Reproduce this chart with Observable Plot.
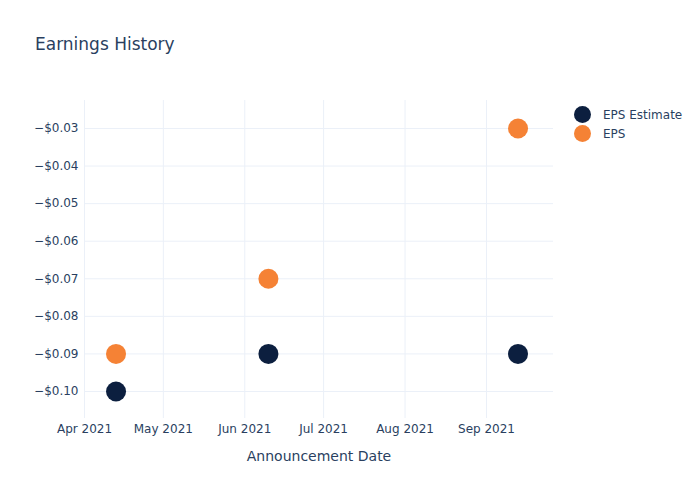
<!DOCTYPE html>
<html>
<head>
<meta charset="utf-8">
<script src="https://cdn.jsdelivr.net/npm/d3@7"></script>
<script src="https://cdn.jsdelivr.net/npm/@observablehq/plot@0.6"></script>
<style>
  html, body { margin: 0; padding: 0; background: #fff; }
  #wrap { position: relative; width: 700px; height: 500px; font-family: "DejaVu Sans", sans-serif; color: #2a3f5f; }
  #title { position: absolute; left: 35px; top: 34px; font-size: 17px; color: #2a3f5f; }
  #legend { position: absolute; left: 574px; top: 105px; font-size: 12px; color: #2a3f5f; }
  .item { display: flex; align-items: center; height: 19px; }
  .sw { width: 17px; height: 17px; border-radius: 50%; margin-right: 12px; }
  svg { position: absolute; left: 0; top: 0; }
</style>
</head>
<body>
<div id="wrap">
  <div id="chart"></div>
  <div id="title">Earnings History</div>
  <div id="legend"></div>
</div>
<script>
const dates = ["2021-04-13", "2021-06-10", "2021-09-13"];
const epsEstimate = [-0.10, -0.09, -0.09];
const eps = [-0.09, -0.07, -0.03];
const seriesNames = ["EPS Estimate", "EPS"];
const seriesColors = ["#0c1f3f", "#f58235"];

const rows = [];
dates.forEach((d, i) => {
  rows.push({date: new Date(d), value: epsEstimate[i], series: seriesNames[0]});
});
dates.forEach((d, i) => {
  rows.push({date: new Date(d), value: eps[i], series: seriesNames[1]});
});

const fmtY = v => (v < 0 ? "\u2212" : "") + "$" + Math.abs(v).toFixed(2);
const yTicks = [-0.10, -0.09, -0.08, -0.07, -0.06, -0.05, -0.04, -0.03];
const grid = "#ebf0f8";

const chart = Plot.plot({
  width: 700,
  height: 500,
  marginTop: 100,
  marginBottom: 82,
  marginLeft: 84,
  marginRight: 147,
  style: {fontFamily: "DejaVu Sans, sans-serif", fontSize: "12px", color: "#2a3f5f", background: "transparent"},
  x: {type: "utc", domain: [new Date("2021-04-01"), new Date("2021-09-26T12:00Z")]},
  y: {domain: [-0.10719, -0.02255]},
  color: {domain: seriesNames, range: seriesColors},
  marks: [
    Plot.gridX({ticks: d3.utcMonth.every(1), stroke: grid, strokeOpacity: 1, strokeWidth: 1}),
    Plot.gridY({ticks: yTicks, stroke: grid, strokeOpacity: 1, strokeWidth: 1}),
    Plot.axisY({ticks: yTicks, tickFormat: fmtY, tickSize: 0, tickPadding: 6, label: null, fill: "#2a3f5f"}),
    Plot.axisX({ticks: d3.utcMonth.every(1), tickFormat: d3.utcFormat("%b %Y"), tickSize: 0, tickPadding: 6, label: null, fill: "#2a3f5f"}),
    Plot.axisX({ticks: [], label: "Announcement Date", labelAnchor: "center", labelArrow: "none", labelOffset: 42, fontSize: 14, fill: "#2a3f5f", dx: -2}),
    Plot.dot(rows, {x: "date", y: "value", fill: "series", r: 10, stroke: "none"})
  ]
});
document.getElementById("chart").appendChild(chart);

const leg = document.getElementById("legend");
seriesNames.forEach((n, i) => {
  const it = document.createElement("div");
  it.className = "item";
  const sw = document.createElement("div");
  sw.className = "sw";
  sw.style.background = seriesColors[i];
  const t = document.createElement("span");
  t.textContent = n;
  it.appendChild(sw);
  it.appendChild(t);
  leg.appendChild(it);
});
</script>
</body>
</html>
